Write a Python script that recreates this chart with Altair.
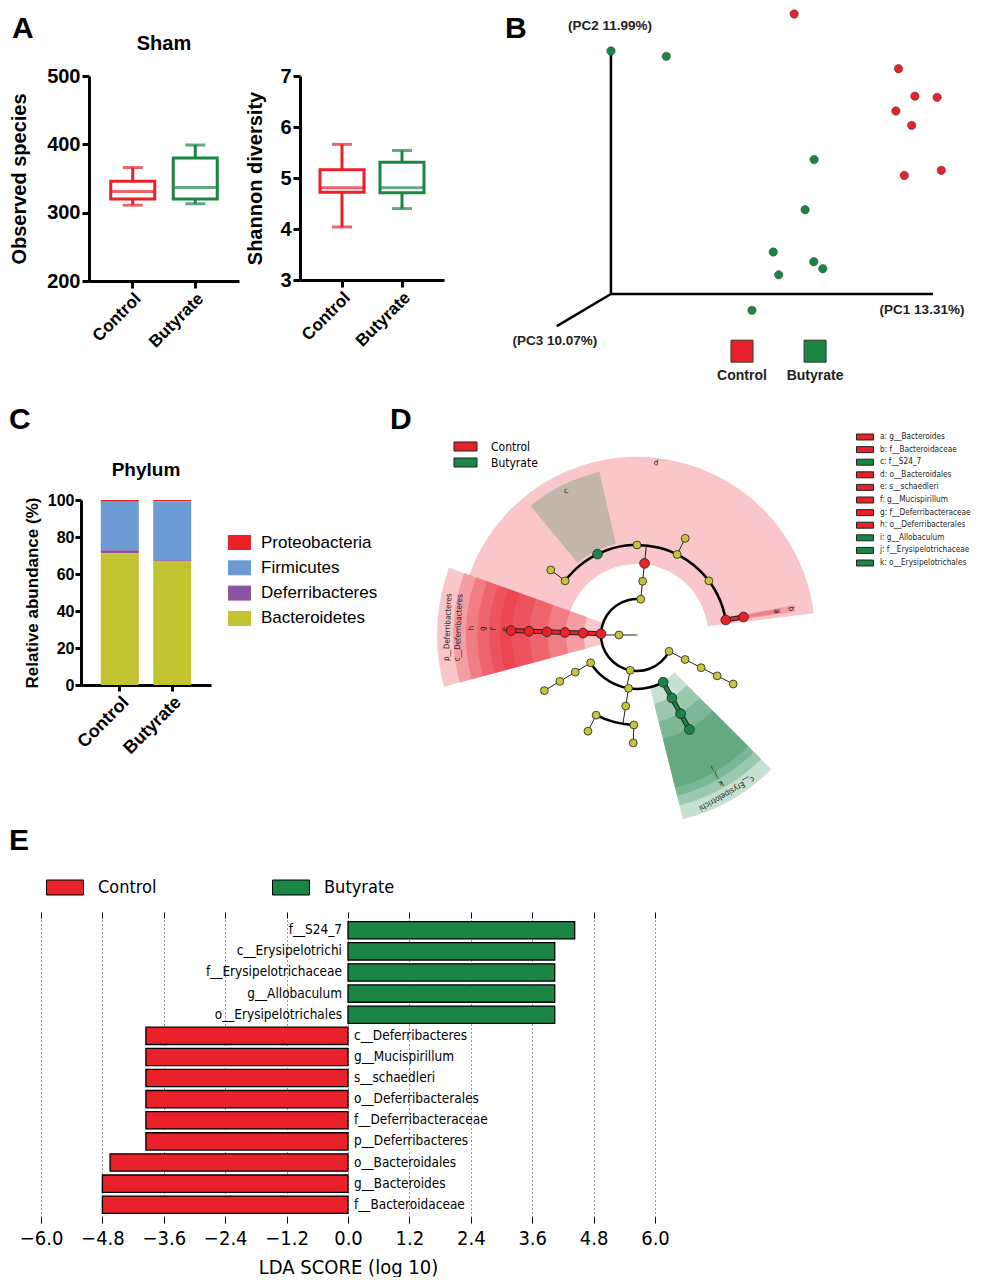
import altair as alt
import pandas as pd

RED = "#e8212a"
GREEN = "#1b8546"
YELLOW = "#c5c43a"
ARIAL = "Liberation Sans"
DJV = "DejaVu Sans Condensed, DejaVu Sans"

groups = ["Control", "Butyrate"]
group_scale = alt.Scale(domain=groups, range=[RED, GREEN])

# ---------------- Panel A : alpha diversity ----------------
obs_min = [311, 313]
obs_q1 = [320, 320]
obs_med = [331, 337]
obs_q3 = [346, 380]
obs_max = [366, 399]
obs_ticks = [200, 300, 400, 500]

sha_min = [4.04, 4.40]
sha_q1 = [4.72, 4.71]
sha_med = [4.81, 4.81]
sha_q3 = [5.16, 5.31]
sha_max = [5.66, 5.54]
sha_ticks = [3, 4, 5, 6, 7]

# ---------------- Panel B : PCoA (projected) ----------------
pc1_control = [0.569, 0.893, 0.944, 1.013, 0.885, 0.934, 0.911, 1.026]
pc2_control = [1.152, 0.927, 0.814, 0.809, 0.753, 0.694, 0.488, 0.509]
pc1_butyrate = [0.000, 0.172, 0.631, 0.603, 0.504, 0.630, 0.658, 0.521, 0.438]
pc2_butyrate = [1.000, 0.978, 0.553, 0.347, 0.173, 0.133, 0.104, 0.079, -0.067]
pc_axis_labels = ["(PC1 13.31%)", "(PC2 11.99%)", "(PC3 10.07%)"]

# ---------------- Panel C : phylum composition ----------------
phyla = ["Proteobacteria", "Firmicutes", "Deferribacteres", "Bacteroidetes"]
phylum_colors = ["#ea2127", "#6b9bd2", "#8c53a1", "#c3c231"]
abund_control = [0.9, 26.3, 1.6, 71.2]
abund_butyrate = [0.7, 31.8, 0.7, 66.8]
abund_ticks = [0, 20, 40, 60, 80, 100]

# ---------------- Panel D : cladogram ----------------
node_level = [1, 2, 2, 2, 2, 3, 4, 5, 5, 5, 5, 5, 5, 6, 6, 6, 3, 4, 5, 6, 7,
              3, 3, 3, 4, 5, 6, 4, 5, 6, 4, 5, 5, 6, 6, 3, 4, 5, 6]
node_angle = [-90, 6, -88, 191, 117, 6, 6, -53, -26, 0, 26.5, 53, 80.4, -53, 26.5, 80.4,
              -88, -88, -88, -88, -88, 151, 189, 239, 151, 151, 151, 239, 239, 239,
              189, 182, 207, 182, 207, 117, 117, 117, 117]
node_taxon = ["none", "none", "p__Deferribacteres", "none", "none", "none", "d: o__Bacteroidales",
              "none", "c: f__S24_7", "none", "none", "none", "b: f__Bacteroidaceae",
              "none", "none", "a: g__Bacteroides",
              "c__Deferribacteres", "h: o__Deferribacterales", "g: f__Deferribacteraceae",
              "f: g__Mucispirillum", "e: s__schaedleri",
              "c__Erysipelotrichi", "none", "none",
              "k: o__Erysipelotrichales", "j: f__Erysipelotrichaceae", "i: g__Allobaculum",
              "none", "none", "none", "none", "none", "none", "none", "none",
              "none", "none", "none", "none"]
edge_angle = [-90, -90, 6, 6, 6, -53, 26.5, 80.4, -88, -88, -88, -88, -88, 191, 151, 151, 151,
              239, 239, 239, 189, 189, 182, 207, 117, 117, 117, 117]
edge_from = [0, 1, 2, 3, 4, 5, 5, 5, 2, 3, 4, 5, 6, 2, 3, 4, 5, 3, 4, 5, 3, 4, 5, 5, 2, 3, 4, 5]
edge_to = [1, 2, 3, 4, 5, 6, 6, 6, 3, 4, 5, 6, 7, 3, 4, 5, 6, 4, 5, 6, 4, 5, 6, 6, 3, 4, 5, 6]
edge_group = ["none"] * 7 + ["Control"] * 6 + ["none"] + ["Butyrate"] * 3 + ["none"] * 11
arc_level = [2, 5, 3, 5]
arc_from = [117, -53, 151, 182]
arc_to = [366, 80.4, 239, 207]
clade_label = ["d", "c", "b", "a", "p__Deferribacteres", "c__Deferribacteres", "h", "g", "f", "e",
               "c__Erysipelotrichi", "k", "j", "i"]
clade_group = ["Control", "Butyrate", "Control", "Control", "Control", "Control", "Control",
               "Control", "Control", "Control", "Butyrate", "Butyrate", "Butyrate", "Butyrate"]
clade_from = [-70.3, -39.5, 79.2, 79.6, -105, -105, -105, -105, -105, -105, 135, 135, 135, 135]
clade_to = [83, -13, 81.6, 81.2, -70.3, -70.3, -70.3, -70.3, -70.3, -70.3, 166, 166, 166, 166]
clade_inner = [3.95, 5.2, 5.0, 6.0, 1.95, 2.95, 3.95, 4.95, 5.95, 6.95, 2.95, 3.95, 4.95, 5.95]
clade_outer = [9.9, 9.3, 8.9, 8.1, 11.1, 10.2, 9.5, 8.85, 8.2, 7.6, 10.55, 9.75, 9.2, 8.75]
clade_label_r = [9.6, 8.9, 8.65, 7.85, 10.5, 9.9, 9.2, 8.55, 7.95, 7.35, 10.1, 9.45, 8.95, 8.45]
letter_taxa = ["a: g__Bacteroides", "b: f__Bacteroidaceae", "c: f__S24_7", "d: o__Bacteroidales",
               "e: s__schaedleri", "f: g__Mucispirillum", "g: f__Deferribacteraceae",
               "h: o__Deferribacterales", "i: g__Allobaculum", "j: f__Erysipelotrichaceae",
               "k: o__Erysipelotrichales"]
letter_group = ["Control", "Control", "Butyrate", "Control", "Control", "Control", "Control",
                "Control", "Butyrate", "Butyrate", "Butyrate"]

# ---------------- Panel E : LDA scores ----------------
lda_taxa = ["f__S24_7", "c__Erysipelotrichi", "f__Erysipelotrichaceae", "g__Allobaculum",
            "o__Erysipelotrichales", "c__Deferribacteres", "g__Mucispirillum", "s__schaedleri",
            "o__Deferribacterales", "f__Deferribacteraceae", "p__Deferribacteres",
            "o__Bacteroidales", "g__Bacteroides", "f__Bacteroidaceae"]
lda_score = [4.43, 4.04, 4.04, 4.04, 4.04, -3.95, -3.95, -3.95, -3.95, -3.95, -3.95,
             -4.65, -4.80, -4.80]
lda_group = ["Butyrate"] * 5 + ["Control"] * 9
lda_ticks = [-6.0, -4.8, -3.6, -2.4, -1.2, 0.0, 1.2, 2.4, 3.6, 4.8, 6.0]

one = pd.DataFrame({"k": [0]})


def text_at(txt, x, y, size=30, align="left", baseline="top", weight="bold", font=ARIAL):
    return alt.Chart(one).mark_text(text=txt, align=align, baseline=baseline, font=font,
                                    fontSize=size, fontWeight=weight, color="black").encode(
        x=alt.value(x), y=alt.value(y))


def axis_g(**kw):
    base = dict(labelFont=ARIAL, labelFontWeight="bold", labelColor="black",
                titleFont=ARIAL, titleFontWeight="bold", titleColor="black",
                domainColor="black", domainWidth=3, tickColor="black", tickWidth=3,
                tickSize=7, grid=False)
    base.update(kw)
    return alt.Axis(**base)


def rect_path(w, h, s):
    # rectangle of w x h pixels for a legend symbol whose nominal size is s x s
    return "M{a:.3f},{b:.3f}H{c:.3f}V{d:.3f}H{a:.3f}Z".format(a=-w / s, b=-h / s, c=w / s, d=h / s)


def box_layers(lo, q1, med, q3, hi, yticks, ytitle, tpad):
    df = pd.DataFrame({"group": groups, "lo": lo, "q1": q1, "med": med, "q3": q3, "hi": hi})
    xa = axis_g(title=None, labelAngle=315, labelFontSize=17, labelPadding=2)
    ya = axis_g(title=ytitle, values=yticks, labelFontSize=20, titleFontSize=20,
                labelPadding=2, titlePadding=tpad)
    xs = alt.Scale(paddingInner=0, paddingOuter=0.2)
    ys = alt.Scale(domain=[yticks[0], yticks[-1]], nice=False, zero=False)
    X = alt.X("group:N", sort=groups, scale=xs, axis=xa)

    def Y(f):
        return alt.Y(f + ":Q", scale=ys, axis=ya)

    col = alt.Color("group:N", scale=group_scale, legend=None)
    base = alt.Chart(df)
    whisk = base.mark_rule(strokeWidth=3).encode(x=X, y=Y("lo"), y2="hi:Q", color=col)
    box = base.mark_bar(size=44, fill="white", strokeWidth=3).encode(
        x=X, y=Y("q1"), y2="q3:Q", stroke=alt.Stroke("group:N", scale=group_scale, legend=None))
    medl = base.mark_tick(size=44, thickness=3).encode(x=X, y=Y("med"), color=col)
    cap1 = base.mark_tick(size=20, thickness=3).encode(x=X, y=Y("lo"), color=col)
    cap2 = base.mark_tick(size=20, thickness=3).encode(x=X, y=Y("hi"), color=col)
    return [whisk, box, medl, cap1, cap2]


A1 = alt.layer(*box_layers(obs_min, obs_q1, obs_med, obs_q3, obs_max, obs_ticks,
                           "Observed species", 17),
               text_at("A", -77, -62),
               text_at("Sham", 75, -26, size=20, align="center", baseline="alphabetic")
               ).properties(width=150, height=205)
A2 = alt.layer(*box_layers(sha_min, sha_q1, sha_med, sha_q3, sha_max, sha_ticks,
                           "Shannon diversity", 14)).properties(width=144, height=204)

# ---------------- B ----------------
BX = alt.Scale(domain=[-0.329, 1.1213], nice=False, zero=False)
BY = alt.Scale(domain=[-0.440, 0.897], nice=False, zero=False)


def bx(v):
    return alt.XDatum(v, scale=BX, axis=None)


def by(v):
    return alt.YDatum(v, scale=BY, axis=None)


b_df = pd.DataFrame({"pc1": pc1_control + pc1_butyrate, "pc2": pc2_control + pc2_butyrate,
                     "group": ["Control"] * len(pc1_control) + ["Butyrate"] * len(pc1_butyrate)})
b_layers = []
for ex, ey in [(1.0, 0.0), (0.0, 1.0), (-0.168, -0.132)]:
    b_layers.append(alt.Chart(one).mark_rule(color="black", strokeWidth=2.5).encode(
        x=bx(0.0), y=by(0.0), x2=alt.X2Datum(ex), y2=alt.Y2Datum(ey)))
for lab, (lx, ly) in zip(pc_axis_labels, [(0.966, -0.066), (-0.003, 1.103), (-0.174, -0.193)]):
    b_layers.append(alt.Chart(one).mark_text(text=lab, font=ARIAL, fontSize=13.5, fontWeight="bold",
                                             color="#222").encode(x=bx(lx), y=by(ly)))
b_layers.append(alt.Chart(b_df).mark_circle(size=70, opacity=1, stroke="#333", strokeWidth=0.5).encode(
    x=alt.X("pc1:Q", scale=BX, axis=None), y=alt.Y("pc2:Q", scale=BY, axis=None),
    color=alt.Color("group:N", scale=group_scale, legend=None)))
for g, c, lx in [("Control", RED, 0.407), ("Butyrate", GREEN, 0.634)]:
    b_layers.append(alt.Chart(one).mark_point(shape="square", filled=True, size=484, opacity=1,
                                              stroke="#333", strokeWidth=1, color=c).encode(
        x=bx(lx), y=by(-0.235)))
    b_layers.append(alt.Chart(one).mark_text(text=g, font=ARIAL, fontSize=14, fontWeight="bold",
                                             color="#222").encode(x=bx(lx), y=by(-0.337)))
b_layers.append(alt.Chart(one).mark_text(text="B", align="left", baseline="top", font=ARIAL,
                                         fontSize=30, fontWeight="bold", color="black").encode(
    x=bx(-0.329), y=by(1.152)))
B = alt.layer(*b_layers).properties(width=467, height=325)

# ---------------- C ----------------
c_df = pd.DataFrame({"group": [g for g in groups for _ in phyla], "phylum": phyla * 2,
                     "abund": abund_control + abund_butyrate,
                     "rank": [len(phyla) - 1 - i for i in range(len(phyla))] * 2})
c_bars = alt.Chart(c_df).mark_bar(size=38).encode(
    x=alt.X("group:N", sort=groups, scale=alt.Scale(paddingInner=0.28, paddingOuter=0.38),
            axis=axis_g(title=None, labelAngle=315, labelFontSize=18, labelPadding=2, tickSize=6)),
    y=alt.Y("abund:Q", stack="zero", scale=alt.Scale(domain=[0, 100], nice=False),
            axis=axis_g(title="Relative abundance (%)", values=abund_ticks, labelFontSize=16,
                        titleFontSize=17, labelPadding=1, titlePadding=6, tickSize=6)),
    color=alt.Color("phylum:N", scale=alt.Scale(domain=phyla, range=phylum_colors),
                    legend=alt.Legend(title=None, orient="none", legendX=150, legendY=34,
                                      symbolType=rect_path(23, 15, 17), symbolSize=289,
                                      symbolStrokeWidth=0, labelFont=ARIAL, labelFontSize=17,
                                      labelColor="black", labelOffset=13, rowPadding=7.3)),
    order=alt.Order("rank:Q"))
C = alt.layer(c_bars, text_at("C", -72, -95),
              text_at("Phylum", 65, -24, size=19, align="center", baseline="alphabetic")
              ).properties(width=130, height=185)

# ---------------- D ----------------
DX = alt.Scale(domain=[-13.72, 18.61], nice=False, zero=False)
DY = alt.Scale(domain=[-10.39, 7.5], nice=False, zero=False)
DR = alt.Scale(type="linear", domain=[0, 10], range=[0, 180], zero=True, nice=False)


def dxf(f):
    return alt.X(f + ":Q", scale=DX, axis=None)


def dyf(f):
    return alt.Y(f + ":Q", scale=DY, axis=None)


sec_df = pd.DataFrame({"clade": clade_label, "group": clade_group, "t0": clade_from, "t1": clade_to,
                       "r0": clade_inner, "r1": clade_outer, "lr": clade_label_r})
sectors = alt.Chart(sec_df).transform_calculate(
    a0="datum.t0*PI/180", a1="datum.t1*PI/180").mark_arc(fillOpacity=0.25).encode(
    x=alt.XDatum(0, scale=DX, axis=None), y=alt.YDatum(0, scale=DY, axis=None),
    theta=alt.Theta("a0:Q", scale=None, stack=None), theta2="a1:Q",
    radius=alt.Radius("r1:Q", scale=DR), radius2="r0:Q",
    fill=alt.Fill("group:N", scale=alt.Scale(domain=groups, range=[RED, GREEN]),
                  legend=alt.Legend(title=None, orient="none", legendX=68, legendY=-61,
                                    symbolType=rect_path(23, 9, 14), symbolSize=196,
                                    symbolOpacity=1, symbolStrokeColor="#222",
                                    symbolStrokeWidth=1, labelFont=DJV, labelFontSize=12,
                                    labelColor="black", labelOffset=18, rowPadding=1)))
arc_df = pd.DataFrame({"lev": arc_level, "t0": arc_from, "t1": arc_to})
rings = alt.Chart(arc_df).transform_calculate(
    a0="datum.t0*PI/180", a1="datum.t1*PI/180", ro="datum.lev+0.07", ri="datum.lev-0.07"
).mark_arc(color="black").encode(
    x=alt.XDatum(0, scale=DX, axis=None), y=alt.YDatum(0, scale=DY, axis=None),
    theta=alt.Theta("a0:Q", scale=None, stack=None), theta2="a1:Q",
    radius=alt.Radius("ro:Q", scale=DR), radius2="ri:Q")
edge_df = pd.DataFrame({"ang": edge_angle, "l0": edge_from, "l1": edge_to, "group": edge_group})
edge_base = alt.Chart(edge_df).transform_calculate(
    a="datum.ang*PI/180", x0="datum.l0*sin(datum.a)", y0="datum.l0*cos(datum.a)",
    x1="datum.l1*sin(datum.a)", y1="datum.l1*cos(datum.a)")
edges_thin = edge_base.transform_filter(alt.datum.group == "none").mark_rule(
    color="#222", strokeWidth=1).encode(x=dxf("x0"), y=dyf("y0"), x2="x1:Q", y2="y1:Q")
edges_hl_bg = edge_base.transform_filter(alt.datum.group != "none").mark_rule(
    color="#222", strokeWidth=5).encode(x=dxf("x0"), y=dyf("y0"), x2="x1:Q", y2="y1:Q")
edges_hl = edge_base.transform_filter(alt.datum.group != "none").mark_rule(strokeWidth=3).encode(
    x=dxf("x0"), y=dyf("y0"), x2="x1:Q", y2="y1:Q",
    stroke=alt.Stroke("group:N", scale=group_scale, legend=None))
node_df = pd.DataFrame({"lev": node_level, "ang": node_angle, "taxon": node_taxon})
node_domain = ["none", "p__Deferribacteres", "c__Deferribacteres", "c__Erysipelotrichi"] + letter_taxa
node_range = [YELLOW, RED, RED, GREEN] + [RED if g == "Control" else GREEN for g in letter_group]
nodes = alt.Chart(node_df).transform_calculate(
    a="datum.ang*PI/180", nx="datum.lev*sin(datum.a)", ny="datum.lev*cos(datum.a)"
).mark_circle(opacity=1, stroke="#222", strokeWidth=0.8).encode(
    x=dxf("nx"), y=dyf("ny"),
    size=alt.condition(alt.datum.taxon != "none", alt.value(95), alt.value(62)),
    fill=alt.Fill("taxon:N", scale=alt.Scale(domain=node_domain, range=node_range),
                  legend=alt.Legend(title=None, values=letter_taxa, orient="none", legendX=469,
                                    legendY=-69, symbolType=rect_path(17, 6, 11), symbolSize=121,
                                    symbolStrokeColor="#222", symbolStrokeWidth=1,
                                    labelFont=DJV, labelFontSize=8.2, labelColor="#222",
                                    labelOffset=9, rowPadding=1.6)))
labels_d = alt.Chart(sec_df).transform_calculate(
    mid="(datum.t0+datum.t1)/2", a="datum.mid*PI/180", lx="datum.lr*sin(datum.a)",
    ly="datum.lr*cos(datum.a)", ang="(datum.mid+360)%360"
).mark_text(font=DJV, fontSize=8, color="#222", baseline="middle", align="center").encode(
    x=dxf("lx"), y=dyf("ly"), text="clade:N", angle=alt.Angle("ang:Q", scale=None))
root = alt.Chart(one).mark_circle(size=5, color=YELLOW, opacity=1).encode(
    x=alt.XDatum(0, scale=DX, axis=None), y=alt.YDatum(0, scale=DY, axis=None))
d_letter = alt.Chart(one).mark_text(text="D", align="left", baseline="top", font=ARIAL,
                                    fontSize=30, fontWeight="bold", color="black").encode(
    x=alt.XDatum(-13.72, scale=DX, axis=None), y=alt.YDatum(7.5 + 95 / 18.0, scale=DY, axis=None))
D = alt.layer(sectors, rings, edges_thin, edges_hl_bg, edges_hl, nodes, labels_d, root, d_letter
              ).resolve_scale(fill="independent").properties(width=582, height=322)

# ---------------- E ----------------
e_df = pd.DataFrame({"taxon": lda_taxa, "score": lda_score, "group": lda_group})
e_df["zero"] = 0.0
EXS = alt.Scale(domain=[-6, 6], nice=False, zero=True)
ey = alt.Y("taxon:N", sort=lda_taxa, axis=None, scale=alt.Scale(paddingInner=0.18, paddingOuter=0.17))
e_axis = alt.Axis(values=lda_ticks, format=".1f", title="LDA SCORE (log 10)", grid=True,
                  gridDash=[1, 3], gridColor="#333", gridWidth=1, domain=False, tickColor="black",
                  tickSize=6, labelFont=DJV, labelFontSize=20, labelColor="black",
                  labelOverlap=False, labelFlush=False,
                  titleFont=DJV, titleFontSize=20, titleFontWeight="normal", titleColor="black",
                  labelPadding=5, titlePadding=9)
e_bars = alt.Chart(e_df).mark_bar(stroke="black", strokeWidth=1.3).encode(
    x=alt.X("score:Q", scale=EXS, axis=e_axis), y=ey,
    color=alt.Color("group:N", scale=group_scale,
                    legend=alt.Legend(title=None, orient="none", legendX=13.5, legendY=-41,
                                      direction="horizontal", symbolType=rect_path(37, 15, 20),
                                      symbolSize=400, symbolStrokeColor="black",
                                      symbolStrokeWidth=1, labelFont=DJV, labelFontSize=18,
                                      labelColor="black", labelOffset=22.5, columnPadding=114)))
e_pos = alt.Chart(e_df).transform_filter(alt.datum.score > 0).mark_text(
    align="right", dx=-6, font=DJV, fontSize=13.5, color="black").encode(
    x=alt.X("zero:Q", scale=EXS, axis=None), y=ey, text="taxon:N")
e_neg = alt.Chart(e_df).transform_filter(alt.datum.score < 0).mark_text(
    align="left", dx=6, font=DJV, fontSize=13.5, color="black").encode(
    x=alt.X("zero:Q", scale=EXS, axis=None), y=ey, text="taxon:N")
e_top = alt.Chart(e_df).mark_point(opacity=0).encode(
    x=alt.X("score:Q", scale=EXS,
            axis=alt.Axis(orient="top", values=lda_ticks, labels=False, title=None, domain=False,
                          grid=False, tickSize=6, tickColor="black")), y=ey)
E = alt.layer(e_bars, e_pos, e_neg, e_top, text_at("E", -32, -92)).resolve_axis(
    x="independent").properties(width=614, height=299)


def spacer():
    return alt.Chart(one).mark_rule(opacity=0, strokeWidth=0).encode(
        x=alt.value(0), y=alt.value(0), x2=alt.value(0), y2=alt.value(0)).properties(width=1, height=1)


indep = dict(color="independent", fill="independent", stroke="independent")
row1_body = alt.concat(alt.hconcat(A1, A2, spacing=6).resolve_scale(**indep), B, columns=2,
                       align="none", spacing=61).resolve_scale(**indep)
row2_body = alt.concat(C, D, columns=2, align="none", spacing=12).resolve_scale(**indep)
row1 = alt.hconcat(spacer(), row1_body, spacing=0).resolve_scale(**indep)
row2 = alt.hconcat(spacer(), row2_body, spacing=0).resolve_scale(**indep)
row3 = alt.hconcat(spacer(), E, spacing=0).resolve_scale(**indep)
chart = alt.vconcat(row1, row2, row3, spacing=4).resolve_scale(**indep).properties(
    padding=0, background="white").configure_view(strokeWidth=0)
chart.save("out.html", embed_options={"renderer": "svg", "actions": False})
